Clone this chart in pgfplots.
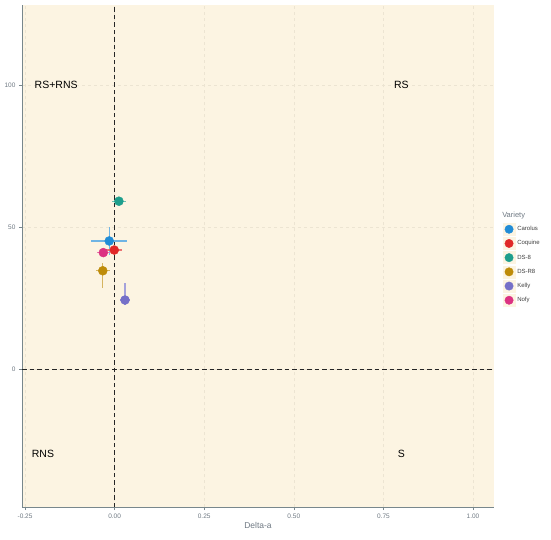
\documentclass[border=0pt]{standalone}
\usepackage{pgfplots}
\pgfplotsset{compat=1.18}
\usepackage{fontspec}
\setmainfont{Liberation Sans}
\definecolor{bgc}{RGB}{252,244,226}
\definecolor{gridc}{RGB}{236,228,210}
\definecolor{axc}{RGB}{120,135,140}
\definecolor{tickc}{RGB}{110,120,130}
\definecolor{cCar}{RGB}{33,140,214}
\definecolor{cCoq}{RGB}{224,40,40}
\definecolor{cDS8}{RGB}{30,158,140}
\definecolor{cDSR}{RGB}{190,140,10}
\definecolor{cKel}{RGB}{117,112,200}
\definecolor{cNof}{RGB}{220,50,130}
\pgfplotsset{
  pt/.style={#1, only marks, mark=*, mark size=4.5pt,
    error bars/.cd, x dir=both, x explicit, y dir=both, y explicit,
    error bar style={color=#1!65!white, line width=1.2pt}, error mark=none}
}
\begin{document}
\begin{tikzpicture}
\path[use as bounding box] (-22pt,-32pt) rectangle (529pt,507pt);
\begin{axis}[
  at={(0,0)}, anchor=south west,
  scale only axis, width=472pt, height=502pt,
  xmin=-0.2584, xmax=1.0586, ymin=-48.6, ymax=128.2,
  axis background/.style={fill=bgc},
  axis lines*=left,
  axis line style={axc, line width=0.8pt},
  xtick={-0.25,0,0.25,0.5,0.75,1},
  ytick={0,50,100},
  xticklabel style={/pgf/number format/fixed, /pgf/number format/fixed zerofill, /pgf/number format/precision=2},
  /pgf/number format/assume math mode=true,
  tick label style={font=\fontsize{6.5}{7}\selectfont, text=tickc},
  tick style={axc, line width=0.5pt},
  tick align=outside, major tick length=3pt,
  xtick pos=bottom, ytick pos=left,
  grid=major,
  major grid style={gridc, dashed, line width=0.4pt},
  xlabel={Delta-a},
  xlabel style={font=\fontsize{8.5}{9}\selectfont, text=tickc, yshift=3pt},
  legend style={at={(1.012,0.570)}, anchor=north west, draw=none, fill=none,
    font=\fontsize{6}{7}\selectfont, row sep=1.8pt, text=black!75},
  legend cell align=left,
  legend image code/.code={\fill[bgc] (-1pt,-6pt) rectangle (11pt,6pt); \fill[#1] (5pt,0pt) circle (4.2pt);},
  clip=false,
]
\draw[black!85, line width=0.9pt, dash pattern=on 4.5pt off 3pt] (axis cs:0,-48.6) -- (axis cs:0,128.2);
\draw[black!85, line width=0.9pt, dash pattern=on 4.5pt off 3pt] (axis cs:-0.2584,0) -- (axis cs:1.0586,0);

\addplot[pt=cCar] coordinates {(-0.015,45.1) +- (0.05,5.0)};
\addlegendentry{Carolus}
\addplot[pt=cCoq] coordinates {(-0.001,41.9) +- (0.022,0.6)};
\addlegendentry{Coquine}
\addplot[pt=cDS8] coordinates {(0.012,59.1) +- (0.019,0.6)};
\addlegendentry{DS-8}
\addplot[pt=cDSR] coordinates {(-0.033,34.6) += (0.019,2.8) -= (0.019,6.2)};
\addlegendentry{DS-R8}
\addplot[pt=cKel] coordinates {(0.029,24.3) += (0.013,6.1) -= (0.013,1.8)};
\addlegendentry{Kelly}
\addplot[pt=cNof] coordinates {(-0.0315,41.0) +- (0.018,0.6)};
\addlegendentry{Nofy}

\node[font=\fontsize{10.5}{11}\selectfont] at (axis cs:-0.163,100) {RS+RNS};
\node[font=\fontsize{10.5}{11}\selectfont] at (axis cs:0.8,100) {RS};
\node[font=\fontsize{10.5}{11}\selectfont] at (axis cs:-0.2,-30) {RNS};
\node[font=\fontsize{10.5}{11}\selectfont] at (axis cs:0.8,-30) {S};
\node[font=\fontsize{7.5}{8}\selectfont, text=tickc, anchor=west] at (rel axis cs:1.01,0.58) {Variety};
\end{axis}
\end{tikzpicture}
\end{document}
